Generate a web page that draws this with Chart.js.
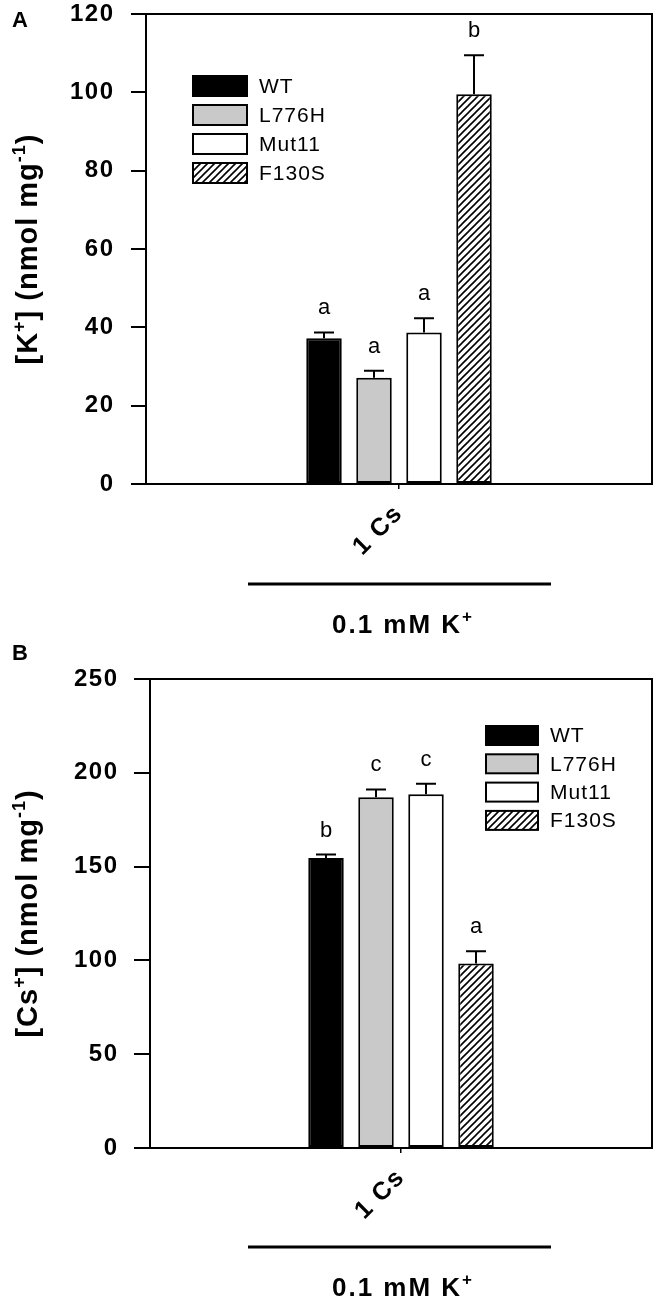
<!DOCTYPE html>
<html>
<head>
<meta charset="utf-8">
<script src="https://cdn.jsdelivr.net/npm/chart.js@4"></script>
<style>
  body { margin: 0; background: #fff; }
  #wrap { position: relative; width: 661px; height: 1303px; }
  canvas { position: absolute; left: 0; }
</style>
</head>
<body>
<div id="wrap">
  <canvas id="chartK" width="661" height="638" style="top:0"></canvas>
  <canvas id="chartCs" width="661" height="665" style="top:638px"></canvas>
</div>
<script>
// data
const categories = ['1 Cs'];
const strains = ['WT', 'L776H', 'Mut11', 'F130S'];

const kMean = [37.2, 27.1, 38.7, 99.5];
const kErr = [1.5, 1.8, 3.6, 10.0];
const kLetters = ['a', 'a', 'a', 'b'];
const kTicks = [0, 20, 40, 60, 80, 100, 120];

const csMean = [154.6, 187.0, 188.5, 98.3];
const csErr = [1.8, 4.1, 5.6, 6.6];
const csLetters = ['b', 'c', 'c', 'a'];
const csTicks = [0, 50, 100, 150, 200, 250];

const FONT = 'Arial, "Liberation Sans", sans-serif';

function hatch() {
  const c = document.createElement('canvas');
  c.width = 7; c.height = 7;
  const g = c.getContext('2d');
  g.fillStyle = '#fff';
  g.fillRect(0, 0, 7, 7);
  g.strokeStyle = '#000';
  g.lineWidth = 1.6;
  g.beginPath();
  g.moveTo(-1, 8); g.lineTo(8, -1);
  g.moveTo(-1, 1); g.lineTo(1, -1);
  g.moveTo(6, 8); g.lineTo(8, 6);
  g.stroke();
  return g.createPattern(c, 'repeat');
}
const fills = ['#000', '#c9c9c9', '#fff', hatch()];

// text with superscript pieces: parts = [[text, isSup], ...]
function richText(ctx, parts, x, y, size, supSize) {
  let total = 0;
  parts.forEach(p => {
    ctx.font = 'bold ' + (p[1] ? supSize : size) + 'px ' + FONT;
    total += ctx.measureText(p[0]).width;
  });
  let cx = x - total / 2;
  ctx.textAlign = 'left';
  ctx.textBaseline = 'alphabetic';
  parts.forEach(p => {
    ctx.font = 'bold ' + (p[1] ? supSize : size) + 'px ' + FONT;
    ctx.fillText(p[0], cx, p[1] ? y - size * 0.42 : y);
    cx += ctx.measureText(p[0]).width;
  });
}

function panelPlugin(o) {
  return {
    id: 'panel' + o.letter,
    beforeDraw(chart) {
      chart.ctx.letterSpacing = '1.5px';
    },
    afterDraw(chart) {
      const ctx = chart.ctx;
      const a = chart.chartArea;
      const y = chart.scales.y;
      ctx.save();
      ctx.strokeStyle = '#000';
      ctx.fillStyle = '#000';
      ctx.lineWidth = 2;
      ctx.strokeRect(a.left, a.top, a.right - a.left, a.bottom - a.top);

      // error bars and letters
      ctx.letterSpacing = '0px';
      strains.forEach((s, i) => {
        const bar = chart.getDatasetMeta(i).data[0];
        const yTop = y.getPixelForValue(o.mean[i] + o.err[i]);
        ctx.beginPath();
        ctx.moveTo(bar.x, bar.y);
        ctx.lineTo(bar.x, yTop);
        ctx.moveTo(bar.x - 10, yTop);
        ctx.lineTo(bar.x + 10, yTop);
        ctx.stroke();
        ctx.font = '22px ' + FONT;
        ctx.textAlign = 'center';
        ctx.textBaseline = 'alphabetic';
        ctx.fillText(o.letters[i], bar.x, yTop - 18);
      });

      // legend
      ctx.letterSpacing = '1px';
      strains.forEach((s, i) => {
        const top = o.legend.top + i * o.legend.step;
        ctx.fillStyle = fills[i];
        ctx.fillRect(o.legend.x, top, o.legend.w, o.legend.h);
        ctx.strokeRect(o.legend.x, top, o.legend.w, o.legend.h);
        ctx.fillStyle = '#000';
        ctx.font = '21px ' + FONT;
        ctx.textAlign = 'left';
        ctx.textBaseline = 'middle';
        ctx.fillText(s, o.legend.x + o.legend.w + 12, top + o.legend.h / 2 + 1);
      });

      // panel letter
      ctx.letterSpacing = '0px';
      ctx.font = 'bold 22px ' + FONT;
      ctx.textAlign = 'left';
      ctx.textBaseline = 'alphabetic';
      ctx.fillText(o.letter, 12, o.letterY);

      // y title
      ctx.save();
      ctx.translate(37, (a.top + a.bottom) / 2);
      ctx.rotate(-Math.PI / 2);
      ctx.letterSpacing = '1px';
      richText(ctx, o.title, 0, 0, 29, 18);
      ctx.restore();

      // treatment bracket
      ctx.lineWidth = 3;
      ctx.beginPath();
      ctx.moveTo(248, o.bracketY);
      ctx.lineTo(551, o.bracketY);
      ctx.stroke();
      ctx.letterSpacing = '2px';
      richText(ctx, [['0.1 mM K', false], ['+', true]], 403, o.bracketY + 49, 26, 17);
      ctx.restore();
    }
  };
}

function makeChart(id, mean, ticks, padTop, axisW, tickLen, tickPad, xH) {
  return new Chart(document.getElementById(id), {
    type: 'bar',
    data: {
      labels: categories,
      datasets: strains.map((s, i) => ({
        label: s,
        data: [mean[i]],
        backgroundColor: fills[i],
        borderColor: '#000',
        borderWidth: 2,
        borderSkipped: false
      }))
    },
    options: {
      responsive: false,
      animation: false,
      events: [],
      layout: { padding: { top: padTop, right: 9, left: 0, bottom: 0 } },
      datasets: { bar: { categoryPercentage: 200 / (652 - axisW), barPercentage: 0.71 } },
      plugins: { legend: { display: false }, tooltip: { enabled: false } },
      scales: {
        x: {
          grid: { drawOnChartArea: false, offset: false, tickLength: 5, color: '#000', lineWidth: 1.5 },
          border: { color: '#000', width: 2 },
          ticks: { minRotation: 45, maxRotation: 45, color: '#000', padding: 10,
                   font: { family: FONT, weight: 'bold', size: 25 } },
          afterFit: s => {
            s.height = xH;
            s.paddingLeft = 0; s.paddingRight = 0;
          }
        },
        y: {
          min: ticks[0],
          max: ticks[ticks.length - 1],
          grid: { drawOnChartArea: false, tickLength: tickLen, color: '#000', lineWidth: 2 },
          border: { color: '#000', width: 2 },
          ticks: { stepSize: ticks[1] - ticks[0], color: '#000', padding: tickPad,
                   font: { family: FONT, weight: 'bold', size: 24 } },
          afterFit: s => {
            s.width = axisW;
            s.paddingTop = 0; s.paddingBottom = 0;
          }
        }
      }
    },
    plugins: [panelPlugin(id === 'chartK' ? {
      letter: 'A', letterY: 27, mean: kMean, err: kErr, letters: kLetters,
      legend: { x: 193, top: 76, step: 29, w: 54, h: 20 },
      title: [['[K', false], ['+', true], ['] (nmol mg', false], ['-1', true], [')', false]],
      bracketY: 584
    } : {
      letter: 'B', letterY: 22, mean: csMean, err: csErr, letters: csLetters,
      legend: { x: 486, top: 88, step: 28.3, w: 52, h: 19 },
      title: [['[Cs', false], ['+', true], ['] (nmol mg', false], ['-1', true], [')', false]],
      bracketY: 609
    })]
  });
}

makeChart('chartK', kMean, kTicks, 14, 146, 15, 16.5, 154);
makeChart('chartCs', csMean, csTicks, 41, 150, 16, 15.5, 155);
</script>
</body>
</html>
